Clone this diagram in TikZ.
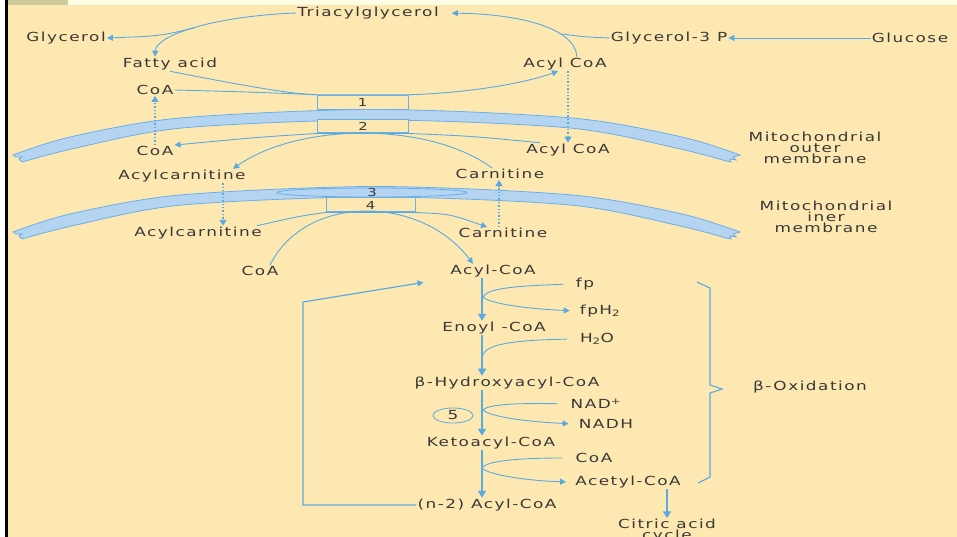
\documentclass[tikz,border=0pt]{standalone}
\usepackage{fontspec}
\setmainfont{DejaVu Sans}[FakeStretch=1.35,LetterSpace=12]
\usetikzlibrary{arrows.meta,shapes.geometric}

\definecolor{peach}{HTML}{FEE8B2}
\definecolor{cream}{HTML}{FFFDE4}
\definecolor{olive}{HTML}{D0CB9C}
\definecolor{lineblue}{HTML}{5AAAE2}
\definecolor{membfill}{HTML}{B5D4F2}
\definecolor{membedge}{HTML}{6AAFE6}
\definecolor{inkgray}{HTML}{383838}

\tikzset{
  txt/.style={text=inkgray, inner sep=1pt, font=\fontsize{12.5}{11}\selectfont},
  ln/.style={draw=lineblue, line width=0.9pt},
  arr/.style={ln, -{Triangle[length=6pt,width=6pt]}},
  dotarr/.style={draw=lineblue, line width=1.4pt, dotted, -{Triangle[length=6pt,width=7pt]}},
  mainarr/.style={draw=lineblue, line width=1.8pt, -{Triangle[length=7pt,width=8pt]}},
  enzbox/.style={txt, draw=membedge, line width=1pt, fill=peach, minimum width=91pt,
    minimum height=14pt, inner sep=0pt, font=\fontsize{11}{11}\selectfont},
  membrane/.style={fill=membfill, draw=membedge, line width=0.8pt},
}

\begin{document}
\begin{tikzpicture}[x=1pt,y=-1pt]
    % the page
    \fill[peach] (0,0) rectangle (957,537);
    \fill[cream] (0,0) rectangle (957,5);
    \fill[olive] (7,0) rectangle (68,5);
    \fill[white] (0,0) rectangle (5,537);
    \fill[black] (5,0) rectangle (7.5,537);
    \useasboundingbox (0,0) rectangle (957,537);

    % draw the two membranes (outer, then inner one shifted down)
    \foreach \dy in {0,77} {
      \begin{scope}[shift={(0,\dy)}]
        \filldraw[membrane] plot[smooth] coordinates {(13,155) (70,137) (180,118) (376,109.5) (572,118) (682,137) (740,155)}
          -- (733,157) -- (736,160) -- (730,159) -- (731,162) -- (726,161)
          -- plot[smooth] coordinates {(726,161) (676,148) (570,128) (376,120) (182,128) (76,148) (22,162)}
          -- (19,159) -- (22,157) -- (16,157) -- cycle;
      \end{scope}
    }

    % the carriers in the membranes
    \node[enzbox] (box1) at (362.5,102.25) {1};
    \node[enzbox, minimum height=13pt] (box2) at (363,126.5) {2};
    \node[ellipse, draw=membedge, fill=membfill, line width=0.8pt, minimum width=190pt,
      minimum height=9pt, inner sep=0pt, label={[txt, font=\fontsize{11}{11}\selectfont]center:3}] (box3) at (372,192.5) {};
    \node[enzbox, minimum width=89pt] (box4) at (370.5,205) {4};

    % the texts
    \node[txt] (tg) at (368,13) {Triacylglycerol};
    \node[txt] (glycerol) at (66,38) {Glycerol};
    \node[txt] (g3p) at (669,38) {Glycerol-3 P};
    \node[txt] (glucose) at (910,38) {Glucose};
    \node[txt] (fatty) at (170,64) {Fatty acid};
    \node[txt] (acylcoa1) at (565,64) {Acyl CoA};
    \node[txt] (coa1) at (155,90) {CoA};
    \node[txt] (coa2) at (155,151) {CoA};
    \node[txt] (acylcoa2) at (568,150) {Acyl CoA};
    \node[txt, align=center] (outerlbl) at (815,148) {Mitochondrial\\outer\\membrane};
    \node[txt] (acylcarn1) at (182,176) {Acylcarnitine};
    \node[txt] (carn1) at (500,174) {Carnitine};
    \node[txt, align=center] (innerlbl) at (826,217) {Mitochondrial\\iner\\membrane};
    \node[txt] (acylcarn2) at (198,233) {Acylcarnitine};
    \node[txt] (carn2) at (503,233) {Carnitine};
    \node[txt] (coa3) at (260,271) {CoA};
    \node[txt] (acylcoa) at (493,271) {Acyl-CoA};
    \node[txt] (fp) at (585,284) {fp};
    \node[txt] (fph2) at (600,311) {fpH\textsubscript{2}};
    \node[txt] (enoyl) at (494,328) {Enoyl -CoA};
    \node[txt] (h2o) at (597,339) {H\textsubscript{2}O};
    \node[txt] (hydroxy) at (507,383) {β-Hydroxyacyl-CoA};
    \node[txt] (nad) at (596,404) {NAD\textsuperscript{+}};
    \node[txt, ellipse, draw=lineblue, line width=0.8pt, minimum width=40pt,
      minimum height=15pt, inner sep=0pt] (step5) at (453,415.5) {5};
    \node[txt] (nadh) at (606,424) {NADH};
    \node[txt] (keto) at (491,443) {Ketoacyl-CoA};
    \node[txt] (coa4) at (594,458) {CoA};
    \node[txt] (acetyl) at (628,482) {Acetyl-CoA};
    \node[txt] (nacyl) at (487,505) {(n-2) Acyl-CoA};
    \node[txt, align=center] (citric) at (667,531) {Citric acid\\cycle};
    \node[txt] (betaox) at (810,387) {β-Oxidation};

    % points where the side paths split or join
    \coordinate (tgsplit) at (194,28);
    \coordinate (g3pmerge) at (562,34);
    \coordinate (axis) at (482,0);
    \coordinate (fpj) at (483,297);
    \coordinate (h2oj) at (483,355);
    \coordinate (nadj) at (483,410);
    \coordinate (coaj) at (482,468);
    \coordinate (loopbl) at (303,505);
    \coordinate (looptl) at (303,302);

    % triacylglycerol breakdown and synthesis
    \draw[arr] (tg.west) .. controls (215,16) and (156,35) .. ([xshift=-15pt]fatty.north);
    \draw[arr] (tgsplit) .. controls (160,36) .. (glycerol.east);
    \draw[arr, shorten >=12pt] ([xshift=12pt]acylcoa1.north) .. controls (575,28) and (520,14) .. (tg.east);
    \draw[ln] (g3p.west) .. controls (585,37) .. (g3pmerge);
    \draw[arr] (glucose.west) -- (g3p.east);

    % outer membrane
    \draw[arr] (fatty.south) .. controls (240,85) and (290,94) .. (box1.north west)
      -- (box1.north east) .. controls (470,93) and (525,83) .. ([xshift=-7pt]acylcoa1.south);
    \draw[ln] (coa1.east) .. controls (250,92) .. (box1.north west);
    \draw[arr] ([xshift=-28pt]acylcoa2.north) .. controls (470,136) .. (box2.south east)
      -- (box2.south west) .. controls (260,137) .. (coa2.north east);
    \draw[arr] ([xshift=-8pt]carn1.north) .. controls (430,122) and (300,122) .. ([xshift=51pt]acylcarn1.north);
    \draw[dotarr] (coa2.north) -- (coa1.south);
    \draw[dotarr] (acylcoa1.south -| acylcoa2.north) -- (acylcoa2.north);

    % inner membrane
    \draw[dotarr] ([xshift=41pt]acylcarn1.south) -- ([xshift=25pt]acylcarn2.north);
    \draw[dotarr] ([xshift=-4pt]carn2.north) -- ([xshift=-1pt]carn1.south);
    \draw[arr] ([xshift=-6pt]acylcarn2.north east) .. controls (300,216) .. (box4.south west)
      -- (box4.south east) .. controls (450,214) .. ([xshift=-16pt]carn2.north);
    \draw[arr] ([xshift=10pt]coa3.north) .. controls (305,194) and (420,194) .. ([xshift=-20pt]acylcoa.north);

    % the beta oxidation steps
    \draw[mainarr] (acylcoa.south -| axis) -- (enoyl.north -| axis);
    \draw[mainarr] (enoyl.south -| axis) -- (hydroxy.north -| axis);
    \draw[mainarr] (hydroxy.south -| axis) -- (keto.north -| axis);
    \draw[mainarr] (keto.south -| axis) -- (nacyl.north -| axis);
    \draw[mainarr] (citric.north |- acetyl.south) -- (citric.north);
    %
    \draw[ln, shorten <=12pt] (fp.west) .. controls (510,286) and (487,289) .. (fpj);
    \draw[arr, shorten >=9pt] (fpj) .. controls (490,304) and (530,309) .. (fph2.west);
    \draw[ln, shorten <=12pt] (h2o.west) .. controls (510,340) and (486,345) .. (h2oj);
    \draw[ln, shorten <=12pt] (nad.west) .. controls (520,403) and (488,404) .. (nadj);
    \draw[arr, shorten >=9pt] (nadj) .. controls (490,417) and (530,422) .. (nadh.west);
    \draw[ln, shorten <=12pt] (coa4.west) .. controls (510,458) and (485,462) .. (coaj);
    \draw[arr, shorten >=8pt] (coaj) .. controls (488,475) and (530,481) .. (acetyl.west);

    % the loop back for the next round
    \draw[arr, line width=1.2pt, shorten >=26pt] (nacyl.west) -- (loopbl) -- (looptl) -- (acylcoa.south west);

    % the brace
    \draw[ln, line width=1.1pt] (697,282) -- (710,288) -- (710,385) -- (722,389) -- (710,393) -- (710,477) -- (698,483);
\end{tikzpicture}
\end{document}
